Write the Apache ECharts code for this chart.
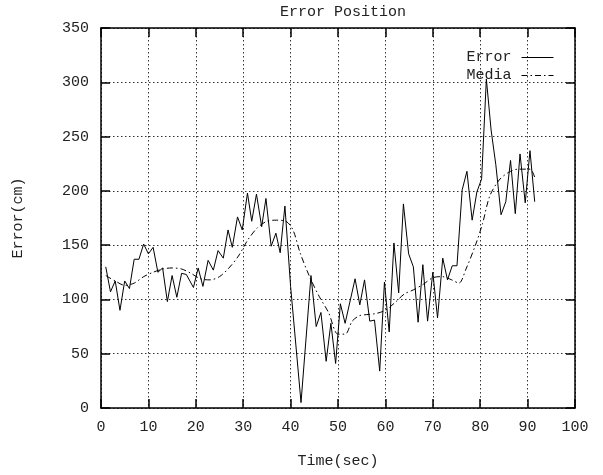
<!DOCTYPE html>
<html>
<head>
<meta charset="utf-8">
<script src="https://cdn.jsdelivr.net/npm/echarts@6/dist/echarts.min.js"></script>
<style>
  html, body { margin: 0; padding: 0; background: #fff; }
  #main { width: 603px; height: 475px; }
</style>
</head>
<body>
<div id="main"></div>
<script>
// error vs time as [time, cm]
var errorData = [
  [1, 130], [2, 107], [3, 117], [4, 90], [5, 117], [6, 110], [7, 137], [8, 137],
  [9, 151], [10, 142], [11, 148], [12, 125], [13, 129], [14, 98], [15, 122], [16, 102],
  [17, 124], [18, 123], [19.5, 111], [20.5, 129], [21.5, 112], [22.6, 136], [23.7, 127],
  [24.7, 145], [25.8, 138], [26.8, 164], [27.7, 148], [28.8, 176], [29.8, 164], [30.9, 198],
  [31.8, 172], [32.8, 197], [33.9, 167], [34.8, 193], [35.9, 149], [36.9, 161], [37.8, 143],
  [38.8, 186], [40, 112], [42.2, 5], [44.3, 122], [45.4, 75], [46.4, 88], [47.5, 43],
  [48.5, 78], [49.5, 41], [50.5, 96], [51.5, 78], [53.6, 119], [54.6, 95], [55.6, 118],
  [56.7, 80], [57.7, 81], [58.8, 34], [59.8, 116], [60.8, 70], [61.8, 152], [62.8, 106],
  [63.8, 188], [64.9, 142], [65.9, 130], [66.9, 79], [67.9, 132], [68.9, 80], [70, 125],
  [71, 83], [72.1, 138], [73.1, 118], [74.1, 131], [75.1, 131], [76.2, 201], [77.2, 218],
  [78.3, 173], [79.3, 199], [80.3, 211], [81.3, 303], [82.3, 256], [83.3, 224], [84.4, 178],
  [85.4, 190], [86.4, 228], [87.4, 179], [88.4, 234], [89.5, 189], [90.5, 237], [91.5, 190]
];

// smoothed curve (dash-dot)
var mediaData = [
  [1, 122], [3, 117], [5, 113], [7, 115], [9, 121], [11, 125], [13, 128], [15, 129],
  [17, 128], [19, 124], [21, 119], [23, 118], [25, 121], [27, 129], [29, 140], [31, 155],
  [33, 166], [35, 172], [37, 173], [39, 172], [40.5, 164], [42, 143], [44, 121], [46, 103],
  [48, 88], [50, 68], [51.5, 68], [53, 80], [54.5, 85], [56, 86], [58, 87], [60, 90],
  [62, 97], [64, 105], [66, 109], [68, 114], [70, 120], [72, 121], [74, 118], [75.5, 115],
  [77, 128], [79, 150], [80.5, 170], [82, 195], [84, 210], [86, 217], [88, 220],
  [90.5, 220], [91.6, 211]
];

var xTicks = { min: 0, max: 100, interval: 10 };
var yTicks = { min: 0, max: 350, interval: 50 };

var font = 'Liberation Mono';
var chart = echarts.init(document.getElementById('main'));

function axis(pos, range, showLabel, grid) {
  return {
    type: 'value',
    position: pos,
    min: range.min,
    max: range.max,
    interval: range.interval,
    axisLine: { show: true, onZero: false, lineStyle: { color: '#000', width: 1.5 } },
    axisTick: { show: true, inside: true, length: 9, lineStyle: { color: '#000', width: 1.5 } },
    axisLabel: {
      show: showLabel,
      margin: 12,
      color: '#222',
      fontFamily: font,
      fontSize: 15
    },
    splitLine: {
      show: grid,
      lineStyle: { color: '#333', width: 1, type: [1.5, 2.5] }
    }
  };
}

var xMain = axis('bottom', xTicks, true, true);
xMain.name = 'Time(sec)';
xMain.nameLocation = 'middle';
xMain.nameGap = 46;
xMain.nameTextStyle = { color: '#222', fontFamily: font, fontSize: 15 };

var yMain = axis('left', yTicks, true, true);
yMain.name = 'Error(cm)';
yMain.nameLocation = 'middle';
yMain.nameGap = 75;
yMain.nameTextStyle = { color: '#222', fontFamily: font, fontSize: 15 };

chart.setOption({
  backgroundColor: '#fff',
  animation: false,
  title: {
    text: 'Error Position',
    left: 338,
    textAlign: 'center',
    top: 0,
    textStyle: { color: '#222', fontFamily: font, fontSize: 15, fontWeight: 'normal' }
  },
  legend: {
    orient: 'vertical',
    right: 44,
    top: 45,
    align: 'right',
    itemWidth: 32,
    itemHeight: 14,
    itemGap: 3,
    itemStyle: { opacity: 0 },
    lineStyle: { width: 1 },
    textStyle: { color: '#222', fontFamily: font, fontSize: 15, padding: [0, 5, 0, 0] },
    data: ['Error', 'Media']
  },
  grid: { left: 101, right: 28, top: 28, bottom: 67 },
  xAxis: [xMain, axis('top', xTicks, false, false)],
  yAxis: [yMain, axis('right', yTicks, false, false)],
  series: [
    {
      name: 'Error',
      type: 'line',
      data: errorData,
      symbol: 'none',
      lineStyle: { color: '#000', width: 1 },
      itemStyle: { color: '#000' }
    },
    {
      name: 'Media',
      type: 'line',
      data: mediaData,
      symbol: 'none',
      smooth: 0.3,
      lineStyle: { color: '#000', width: 1, type: [6, 3, 1.5, 3] },
      itemStyle: { color: '#000' }
    }
  ]
});
</script>
</body>
</html>
